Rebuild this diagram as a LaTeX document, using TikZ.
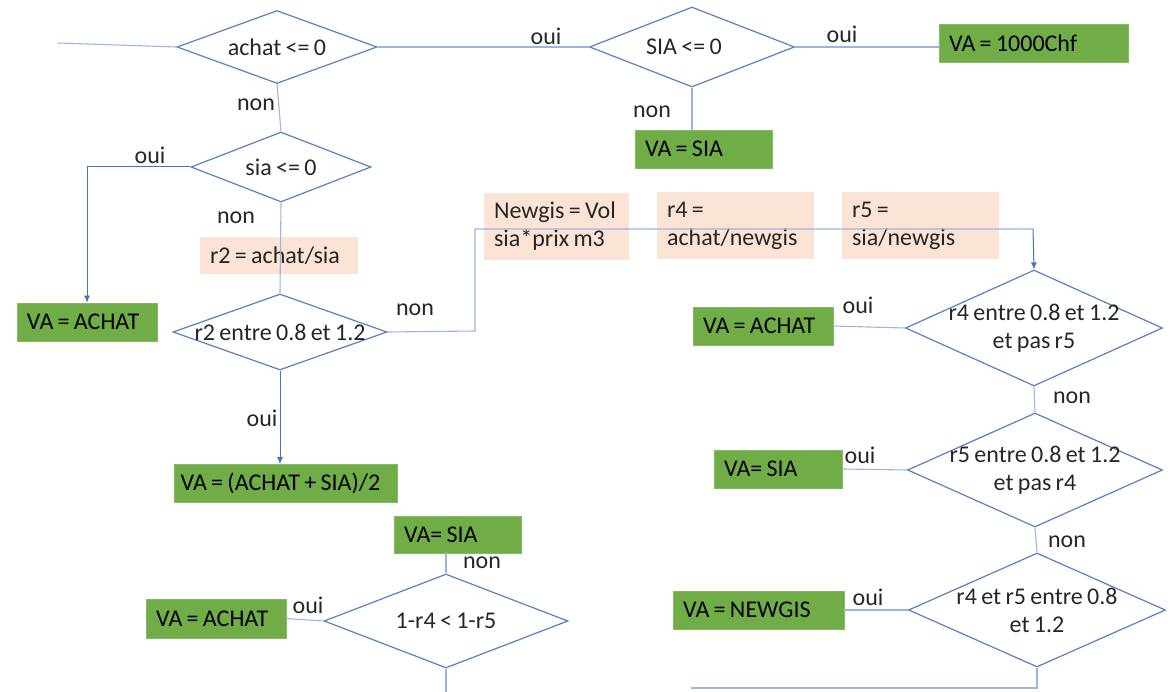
\documentclass[tikz,border=0pt]{standalone}
\usepackage{fontspec}
\setmainfont{Carlito}[WordSpace={0.8,0.2,0.2}]
\usetikzlibrary{shapes.geometric,arrows.meta}
\definecolor{vgreen}{HTML}{70AD47}
\definecolor{peach}{HTML}{FBE3D6}
\definecolor{dblue}{HTML}{5B7FC0}
\definecolor{lblue}{HTML}{9DB4E0}
\definecolor{ablue}{HTML}{4472C4}
\definecolor{txt}{HTML}{262626}
\tikzset{
  every node/.style={font=\fontsize{24}{28}\selectfont, text=txt},
  dec/.style={diamond, draw=dblue, line width=1.2pt, inner sep=0pt},
  gbox/.style={fill=vgreen, draw=vgreen!85!white, line width=0.6pt, minimum height=38pt, inner xsep=10pt, inner ysep=0pt, align=flush left, text=black},
  pbox/.style={fill=peach, minimum height=67pt, inner xsep=10pt, inner ysep=0pt, align=flush left},
  conn/.style={draw=lblue, line width=1.1pt},
  arr/.style={draw=ablue, line width=1pt, -{Latex[length=7pt,width=6pt]}},
  lab/.style={inner sep=0pt}
}
\begin{document}
\begin{tikzpicture}[x=1pt,y=-1pt]
\useasboundingbox (0,0) rectangle (1173,692);

% peach computation boxes
\node[pbox, minimum height=37pt, text width=138pt] (r2) at (279,255.5) {r2 = achat/sia};
\node[pbox, text width=125pt] (ng) at (556.5,226.5) {Newgis = Vol\\sia*prix m3};
\node[pbox, text width=137pt] (r4) at (735.5,225.5) {r4 =\\achat/newgis};
\node[pbox, text width=137pt] (r5) at (920.5,225.5) {r5 =\\sia/newgis};

% decisions
\node[dec, minimum width=200pt, minimum height=73pt, label=center:{achat <= 0}] (d1) at (277,47) {};
\node[dec, minimum width=205pt, minimum height=80pt, label={[xshift=-8pt]center:{SIA <= 0}}] (d2) at (692,47) {};
\node[dec, minimum width=180pt, minimum height=70pt, label=center:{sia <= 0}] (d3) at (281,167) {};
\node[dec, minimum width=214pt, minimum height=76pt, label=center:{r2 entre 0.8 et 1.2}] (d4) at (280,332) {};
\node[dec, minimum width=257pt, minimum height=116pt, label={[align=center]center:{r4 entre 0.8 et 1.2\\et pas r5}}] (d5) at (1034,328) {};
\node[dec, minimum width=255pt, minimum height=114pt, label={[align=center]center:{r5 entre 0.8 et 1.2\\et pas r4}}] (d6) at (1035,470) {};
\node[dec, minimum width=257pt, minimum height=114pt, label={[align=center]center:{r4 et r5 entre 0.8\\et 1.2}}] (d7) at (1037,610) {};
\node[dec, minimum width=244pt, minimum height=94pt, label=center:{1-r4 < 1-r5}] (d8) at (446,621) {};

% result boxes
\node[gbox, minimum width=189pt, text width=169pt] (b1) at (1033.5,43) {VA = 1000Chf};
\node[gbox, minimum width=137pt, text width=117pt] (b2) at (703.5,149) {VA = SIA};
\node[gbox, minimum width=140pt, text width=120pt] (b3) at (87,322) {VA = ACHAT};
\node[gbox, minimum width=223pt, text width=210pt, inner xsep=6.5pt] (b4) at (285.5,483.5) {VA = (ACHAT + SIA)/2};
\node[gbox, minimum width=127pt, text width=107pt, minimum height=37pt] (b5) at (457.5,534.5) {VA= SIA};
\node[gbox, minimum width=140pt, text width=120pt, minimum height=39pt] (b6) at (216,618.5) {VA = ACHAT};
\node[gbox, minimum width=140pt, text width=120pt] (b7) at (763,326) {VA = ACHAT};
\node[gbox, minimum width=128pt, text width=108pt] (b8) at (778,469) {VA= SIA};
\node[gbox, minimum width=171pt, text width=151pt] (b9) at (758.5,610) {VA = NEWGIS};

% free ends
\coordinate (in) at (58,43);
\coordinate (k1) at (475,331);
\coordinate (k2) at (1033,229);
\coordinate (e7) at (1037,688);
\coordinate (e7b) at (691,688);
\coordinate (e8) at (446,692);

% connectors
\draw[conn] (in) -- (d1.west);
\draw[conn] (d1.east) -- (d2.west);
\draw[conn] (d2.east) -- (d2.east -| b1.west);
\draw[conn] (d2.south) -- (d2.south |- b2.north);
\draw[conn] (d1.south) -- (d3.north);
\draw[arr] (d3.west) -| (b3.north);
\draw[conn] (d3.south) -- (d4.north);
\draw[arr] (d4.south) -- (d4.south |- b4.north);
\draw[conn] (d4.east) -- (k1) -- (k1 |- k2) -- (k2);
\draw[arr] (k2) -- (d5.north);
\draw[conn] (b7.east) -- (d5.west);
\draw[conn] (d5.south) -- (d6.north);
\draw[conn] (b8.east) -- (d6.west);
\draw[conn] (d6.south) -- (d7.north);
\draw[conn] (b9.east) -- (d7.west);
\draw[conn] (d7.south) -- (e7) -- (e7b);
\draw[conn] (d8.north |- b5.south) -- (d8.north);
\draw[conn] (b6.east) -- (d8.west);
\draw[conn] (d8.south) -- (e8);

% connector labels
\node[lab] (l1) at (546,36) {oui};
\node[lab] (l2) at (842,34) {oui};
\node[lab] (l3) at (652,112) {non};
\node[lab] (l4) at (256,105) {non};
\node[lab] (l5) at (150,155) {oui};
\node[lab] (l6) at (236,218) {non};
\node[lab] (l7) at (262,418) {oui};
\node[lab] (l8) at (415,310) {non};
\node[lab] (l9) at (858,305) {oui};
\node[lab] (l10) at (1072,398) {non};
\node[lab] (l11) at (860,455) {oui};
\node[lab] (l12) at (1067,542) {non};
\node[lab] (l13) at (868,597) {oui};
\node[lab] (l14) at (482,563) {non};
\node[lab] (l15) at (308,605) {oui};
\end{tikzpicture}
\end{document}
